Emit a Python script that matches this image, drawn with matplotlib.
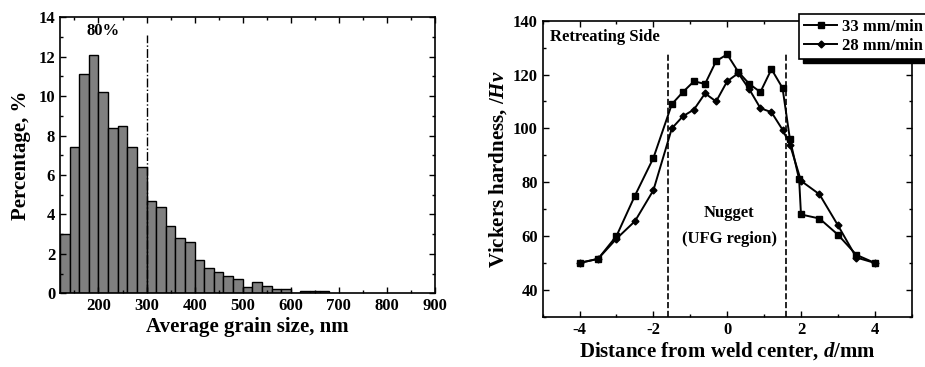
import matplotlib
matplotlib.use("Agg")
from matplotlib import pyplot as plt
from matplotlib.patches import Rectangle
import numpy as np

plt.rcParams['font.family'] = 'Liberation Serif'
plt.rcParams['font.weight'] = 'bold'
plt.rcParams['axes.unicode_minus'] = False
plt.rcParams['mathtext.fontset'] = 'custom'
plt.rcParams['mathtext.it'] = 'Liberation Serif:italic:bold'
plt.rcParams['mathtext.rm'] = 'Liberation Serif:bold'

# grain size histogram (bin left edges, nm) and percentages
bin_left = [120, 140, 160, 180, 200, 220, 240, 260, 280, 300, 320, 340, 360, 380,
            400, 420, 440, 460, 480, 500, 520, 540, 560, 580, 600, 620, 640, 660]
percent = [3.0, 7.4, 11.1, 12.1, 10.2, 8.4, 8.5, 7.4, 6.4, 4.7, 4.4, 3.4, 2.8, 2.6,
           1.7, 1.3, 1.1, 0.9, 0.75, 0.3, 0.55, 0.35, 0.2, 0.2, 0.0, 0.13, 0.13, 0.13]
bin_width = 20
cut_size = 300

# hardness profiles
d_33 = [-4, -3.5, -3, -2.5, -2, -1.5, -1.2, -0.9, -0.6, -0.3, 0, 0.3, 0.6, 0.9,
        1.2, 1.5, 1.7, 1.95, 2.0, 2.5, 3, 3.5, 4]
hv_33 = [50, 51.5, 60, 75, 89, 109, 113.5, 117.5, 116.5, 125, 127.5, 121, 116.5, 113.5,
         122, 115, 96, 81, 68, 66.5, 60.5, 53, 50]
d_28 = [-4, -3.5, -3, -2.5, -2, -1.5, -1.2, -0.9, -0.6, -0.3, 0, 0.3, 0.6, 0.9,
        1.2, 1.5, 1.7, 2.0, 2.5, 3, 3.5, 4]
hv_28 = [50, 51.5, 59, 65.5, 77, 100, 104.5, 107, 113, 110, 117.5, 120.5, 114.5, 107.5,
         106, 99.5, 94, 80.5, 75.5, 64, 52, 50]
nugget_edge = 1.6

fig = plt.figure(figsize=(9.25, 3.67), dpi=100)

def style_ax(ax):
    ax.tick_params(which='both', direction='in', top=True, right=True, labelsize=12, width=1)
    ax.tick_params(which='major', length=4)
    ax.tick_params(which='minor', length=2.5)
    for s in ax.spines.values():
        s.set_linewidth(1.2)

## left: histogram
ax1 = fig.add_axes([0.0649, 0.2008, 0.4054, 0.752])
ax1.bar(bin_left, percent, width=bin_width, align='edge', color='#808080',
        edgecolor='black', linewidth=1)
ax1.plot([cut_size, cut_size], [0, 13.1], color='black', linestyle='-.', linewidth=1)
ax1.text(210, 13.3, '80%', ha='center', va='center', fontsize=12, fontweight='bold')
ax1.set_xlim(120, 900)
ax1.set_ylim(0, 14)
ax1.set_xticks(np.arange(200, 901, 100))
ax1.set_xticks(np.arange(150, 901, 50), minor=True)
ax1.set_yticks(np.arange(0, 15, 2))
ax1.set_yticks(np.arange(0, 15, 1), minor=True)
style_ax(ax1)
ax1.set_xlabel('Average grain size, nm', fontsize=15, fontweight='bold', labelpad=2)
ax1.set_ylabel('Percentage, %', fontsize=15, fontweight='bold', labelpad=5)

## right: hardness
ax2 = fig.add_axes([0.5867, 0.137, 0.3989, 0.8065])
ax2.plot(d_33, hv_33, color='black', marker='s', markersize=4.5, linewidth=1.4,
         label='33 mm/min')
ax2.plot(d_28, hv_28, color='black', marker='D', markersize=3.5, linewidth=1.4,
         label='28 mm/min')
for xv in (-nugget_edge, nugget_edge):
    ax2.plot([xv, xv], [30, 128], color='black', linestyle='--', linewidth=1.2)
ax2.text(-4.8, 134, 'Retreating Side', ha='left', va='center', fontsize=12,
         fontweight='bold')
ax2.text(0.05, 68.5, 'Nugget', ha='center', va='center', fontsize=12, fontweight='bold')
ax2.text(0.05, 59, '(UFG region)', ha='center', va='center', fontsize=12, fontweight='bold')
ax2.set_xlim(-5, 5)
ax2.set_ylim(30, 140)
ax2.set_xticks([-4, -2, 0, 2, 4])
ax2.set_xticks(np.arange(-5, 6, 1), minor=True)
ax2.set_yticks(np.arange(40, 141, 20))
ax2.set_yticks(np.arange(30, 141, 10), minor=True)
style_ax(ax2)
ax2.set_xlabel('Distance from weld center, $\\it{d}$/mm', fontsize=15,
               fontweight='bold', labelpad=2)
ax2.set_ylabel('Vickers hardness, /$\\it{Hv}$', fontsize=15, fontweight='bold', labelpad=3)

# legend with a black drop shadow
fig.patches.append(Rectangle((803 / 925, 1 - 63 / 367), 1, 13 / 367,
                             transform=fig.transFigure, color='black', zorder=1))
leg = fig.legend(loc='upper left', bbox_to_anchor=(799 / 925, 1 - 14 / 367),
                 fontsize=12, frameon=True, fancybox=False, edgecolor='black',
                 framealpha=1, borderpad=0.3, handlelength=2.0, handletextpad=0.3,
                 labelspacing=0.2, borderaxespad=0)
leg.get_frame().set_linewidth(1.2)
leg.set_zorder(5)

fig.savefig('out.png', dpi=100)
